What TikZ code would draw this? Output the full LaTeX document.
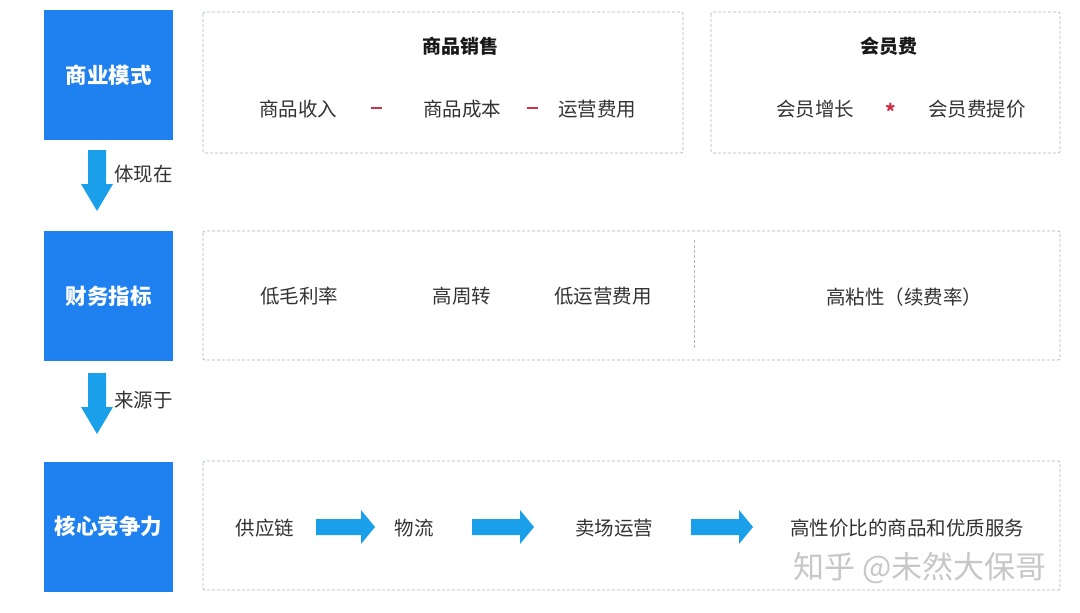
\documentclass[tikz,border=0pt]{standalone}
\usepackage{fontspec}
\setmainfont{Noto Sans CJK SC}
\begin{document}
\begin{tikzpicture}[x=1pt,y=-1pt,
  bluebox/.style={fill=boxblue, minimum width=129pt, minimum height=130pt, inner sep=0pt, text=white, font=\fontsize{21.5}{23}\selectfont\bfseries},
  dbox/.style={draw=dashgray, dash pattern=on 3pt off 2pt, line width=0.7pt, rounded corners=2pt},
  txt/.style={font=\fontsize{19.5}{21}\selectfont, text=black!80, inner sep=0pt},
  ttl/.style={font=\fontsize{19}{21}\selectfont\bfseries, text=black!90, inner sep=0pt},
  op/.style={font=\fontsize{20}{20}\selectfont\bfseries, text=opred, inner sep=0pt},
  downarr/.style={fill=arrblue, draw=none},
]
\definecolor{boxblue}{HTML}{1F80F0}
\definecolor{arrblue}{HTML}{1AA0EA}
\definecolor{dashgray}{HTML}{A8B8C0}
\definecolor{opred}{HTML}{D0304A}
\useasboundingbox (0,0) rectangle (1080,613);
\fill[white] (0,0) rectangle (1080,613);

% left blue boxes
\node[bluebox] (b1) at (108.5,75) {商业模式};
\node[bluebox] (b2) at (108.5,296) {财务指标};
\node[bluebox] (b3) at (108.5,526.5) {核心竞争力};

% down arrows
\fill[downarr] (88,150) -- (106,150) -- (106,184) -- (113,184) -- (97,211) -- (81,184) -- (88,184) -- cycle;
\fill[downarr] (88,373) -- (106,373) -- (106,407) -- (113,407) -- (97,434) -- (81,407) -- (88,407) -- cycle;
\node[txt, anchor=west] (l1) at (114,174) {体现在};
\node[txt, anchor=west] (l2) at (114,400) {来源于};

% top dashed boxes
\draw[dbox] (203,12) rectangle (683,153);
\draw[dbox] (711,12) rectangle (1060,153);
\node[ttl] (t1) at (460,46) {商品销售};
\node[txt] (s1) at (298,109) {商品收入};
\node[op] (m1) at (376,108) {\rule{11pt}{2.4pt}};
\node[txt] (s2) at (462,109) {商品成本};
\node[op] (m2) at (532,108) {\rule{11pt}{2.4pt}};
\node[txt] (s3) at (597,109) {运营费用};
\node[ttl] (t2) at (889,46) {会员费};
\node[txt] (v1) at (815,109) {会员增长};
\node[op] (m3) at (891,111) {*};
\node[txt] (v2) at (977,109) {会员费提价};

% middle dashed box
\draw[dbox] (203,231) rectangle (1060,360);
\draw[draw=dashgray, dash pattern=on 3pt off 2pt, line width=0.5pt] (694,240) -- (694,350);
\node[txt] (f1) at (299,296) {低毛利率};
\node[txt] (f2) at (462,296) {高周转};
\node[txt] (f3) at (603,296) {低运营费用};
\node[txt] (f4) at (904,297) {高粘性（续费率）};

% bottom dashed box
\draw[dbox] (203,461) rectangle (1060,590);
\node[txt] (c1) at (265,528) {供应链};
\node[txt] (c2) at (414,528) {物流};
\node[txt] (c3) at (614,528) {卖场运营};
\node[txt] (c4) at (907,528) {高性价比的商品和优质服务};
\foreach \xa/\xb in {316/375, 472/534, 691/753}{
  \fill[arrblue] (\xa,519) -- (\xb-14,519) -- (\xb-14,510) -- (\xb,527) -- (\xb-14,544) -- (\xb-14,535) -- (\xa,535) -- cycle;
}
\node[font=\fontsize{31}{32}\selectfont, text=black!22, inner sep=0pt] (wm) at (920,568) {知乎 @未然大保哥};
\end{tikzpicture}
\end{document}
